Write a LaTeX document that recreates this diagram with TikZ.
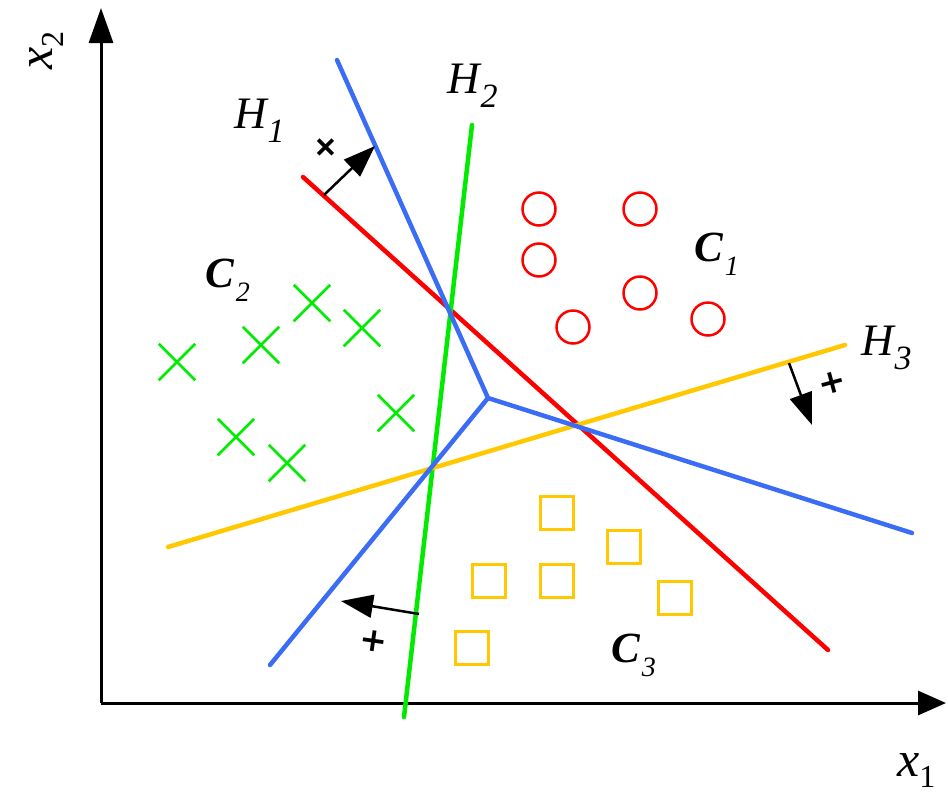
\documentclass[tikz,border=0pt]{standalone}
\usepackage{fontspec}
\setmainfont{Liberation Serif}
\newfontfamily\plusfont{DejaVu Sans}
\usetikzlibrary{arrows.meta,shapes.misc}
\definecolor{cred}{RGB}{255,0,0}
\definecolor{cblue}{RGB}{58,108,245}
\definecolor{cgreen}{RGB}{0,235,0}
\definecolor{cyellow}{RGB}{255,200,0}
\newcommand{\hlab}[2]{\fontsize{45}{45}\selectfont\itshape #1\kern1pt\raisebox{-14pt}{\fontsize{34}{34}\selectfont #2}}
\newcommand{\clab}[2]{\fontsize{43}{43}\selectfont\bfseries\itshape #1\kern2pt\raisebox{-14pt}{\fontsize{28}{28}\selectfont\mdseries #2}}
\newcommand{\xlab}[2]{\fontsize{50}{50}\selectfont\itshape #1\kern0pt\raisebox{-11pt}{\fontsize{32}{32}\selectfont\upshape #2}}
\begin{document}
\begin{tikzpicture}[x=1pt,y=-1pt,
  axis/.style={line width=3pt,-{Triangle[length=35pt,width=24pt]}},
  hline/.style={line width=4.5pt,line cap=round},
  parrow/.style={line width=2.5pt,-{Triangle[length=32pt,width=23pt]}},
  plus/.style={font=\plusfont\bfseries\fontsize{33}{33}\selectfont,inner sep=0pt},
  circ/.style={circle,draw=cred,line width=2.5pt,minimum size=33pt,inner sep=0pt},
  sq/.style={rectangle,draw=cyellow,line width=2.5pt,minimum size=33pt,inner sep=0pt},
  crs/.style={cross out,draw=cgreen,line width=2.5pt,minimum size=34pt,inner sep=0pt},
  lab/.style={inner sep=0pt,anchor=base west}]
\useasboundingbox (0,0) rectangle (948,793);
% axes
\coordinate (o) at (101,703);
\coordinate (ytip) at (101,8);
\coordinate (xtip) at (946,703);
\draw[axis] (o) -- (ytip);
\draw[axis,-{Triangle[length=28pt,width=24pt]}] (o) -- (xtip);
\node[lab,rotate=90] (x2) at (52,70) {\xlab{x}{2}};
\node[lab] (x1) at (897,776) {\xlab{x}{1}};
% hyperplanes
\coordinate (r1) at (303,177); \coordinate (r2) at (828,650);
\coordinate (g1) at (472,125); \coordinate (g2) at (404,717);
\coordinate (y1) at (168,547); \coordinate (y2) at (845,345);
\coordinate (b1) at (337,60); \coordinate (bj) at (488,398);
\coordinate (b2) at (912,533); \coordinate (b3) at (270,665);
\draw[hline,cred] (r1) -- (r2);
\draw[hline,cgreen] (g1) -- (g2);
\draw[hline,cyellow] (y1) -- (y2);
\draw[hline,cblue,line join=round] (b1) -- (bj) -- (b2);
\draw[hline,cblue] (bj) -- (b3);
% labels
\node[lab] (h1) at (234,128) {\hlab{H}{1}};
\node[lab] (h2) at (447,93) {\hlab{H}{2}};
\node[lab] (h3) at (861,355) {\hlab{H}{3}};
\node[lab] (c1) at (694,261) {\clab{C}{1}};
\node[lab] (c2) at (205,287) {\clab{C}{2}};
\node[lab] (c3) at (611,662) {\clab{C}{3}};
% normal arrows
\coordinate (a1s) at (324,195); \coordinate (a1e) at (375,146);
\coordinate (a3s) at (789,363); \coordinate (a3e) at (812,425);
\coordinate (a2s) at (419,614); \coordinate (a2e) at (341,601);
\draw[parrow] (a1s) -- (a1e);
\draw[parrow] (a3s) -- (a3e);
\draw[parrow] (a2s) -- (a2e);
\node[plus,rotate=45] (p1) at (326,147) {+};
\node[plus,rotate=15] (p3) at (832,383) {+};
\node[plus,rotate=-8] (p2) at (374,641) {+};
% class C1
\node[circ] (o1) at (539,209) {};
\node[circ] (o2) at (640,209) {};
\node[circ] (o3) at (539,260) {};
\node[circ] (o4) at (640,293) {};
\node[circ] (o5) at (573,327) {};
\node[circ] (o6) at (708,319) {};
% class C2
\node[crs] (k1) at (177,362) {};
\node[crs] (k2) at (261,345) {};
\node[crs] (k3) at (312,303) {};
\node[crs] (k4) at (362,328) {};
\node[crs] (k5) at (396,413) {};
\node[crs] (k6) at (236,437) {};
\node[crs] (k7) at (287,463) {};
% class C3
\node[sq] (s1) at (557,513) {};
\node[sq] (s2) at (624,547) {};
\node[sq] (s3) at (489,581) {};
\node[sq] (s4) at (557,581) {};
\node[sq] (s5) at (675,598) {};
\node[sq] (s6) at (472,648) {};
\end{tikzpicture}
\end{document}
